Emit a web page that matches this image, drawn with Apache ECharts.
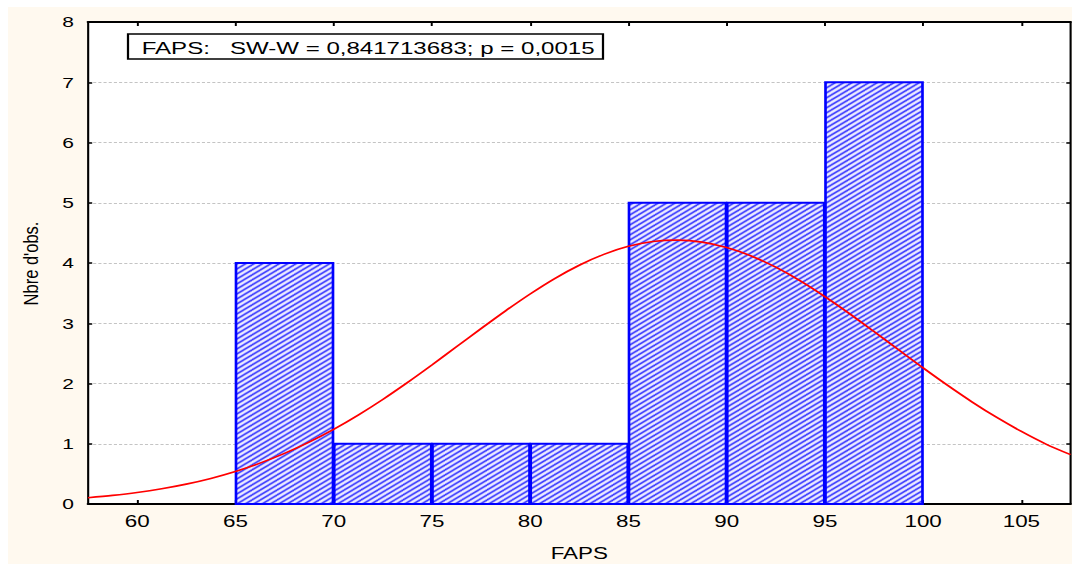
<!DOCTYPE html>
<html><head><meta charset="utf-8">
<script src="https://cdn.jsdelivr.net/npm/echarts@6/dist/echarts.min.js"></script>
<style>
html,body{margin:0;padding:0;background:#fff;width:1072px;height:564px;overflow:hidden;}
#bg{position:absolute;left:8px;top:7px;width:1064px;height:557px;background:#fff9ef;}
#chart{position:absolute;left:0;top:0;width:766px;height:564px;transform:scaleX(1.3994778);transform-origin:0 0;}
</style></head><body><div id="bg"></div><div id="chart"></div>
<script>
// ---- data ----
const binStart = [65, 70, 75, 80, 85, 90, 95];
const binEnd   = [70, 75, 80, 85, 90, 95, 100];
const counts   = [4, 1, 1, 1, 5, 5, 7];
const curveX = [57.5, 58.75, 60, 61.25, 62.5, 63.75, 65, 66.25, 67.5, 68.75, 70, 71.25, 72.5, 73.75, 75, 76.25, 77.5, 78.75, 80, 81.25, 82.5, 83.75, 85, 86.25, 87.5, 88.75, 90, 91.25, 92.5, 93.75, 95, 96.25, 97.5, 98.75, 100, 101.25, 102.5, 103.75, 105, 106.25, 107.5];
const curveY = [0.105, 0.143, 0.191, 0.253, 0.330, 0.425, 0.540, 0.678, 0.840, 1.027, 1.239, 1.476, 1.735, 2.014, 2.307, 2.609, 2.911, 3.206, 3.486, 3.742, 3.963, 4.143, 4.276, 4.356, 4.380, 4.347, 4.258, 4.117, 3.930, 3.703, 3.442, 3.160, 2.862, 2.560, 2.259, 1.968, 1.692, 1.436, 1.204, 0.995, 0.820];
const xTicks = [60, 65, 70, 75, 80, 85, 90, 95, 100, 105];
const xMin = 57.5, xMax = 107.5;
const yMin = 0, yMax = 8, yStep = 1;
const statText = 'FAPS:   SW-W = 0,841713683; p = 0,0015';
const xName = 'FAPS';
const yName = "Nbre d'obs.";

const S = 1072 / 766;
const FONT = "'Liberation Sans', Arial, sans-serif";

function makeHatch() {
  const w = 6, h = 5;
  const c = document.createElement('canvas');
  c.width = w; c.height = h;
  const g = c.getContext('2d');
  g.fillStyle = '#ececff'; g.fillRect(0, 0, w, h);
  g.strokeStyle = '#3434ff'; g.lineWidth = 1.45;
  for (const x0 of [-w, 0, w]) {
    g.beginPath(); g.moveTo(x0 - w, 2 * h); g.lineTo(x0 + 2 * w, -h); g.stroke();
  }
  return c;
}
const hatch = makeHatch();

const chart = echarts.init(document.getElementById('chart'), null, {renderer: 'svg', width: 766, height: 564});

const bins = binStart.map((s, i) => [s, binEnd[i], counts[i]]);
const curve = curveX.map((x, i) => [x, curveY[i]]);

chart.setOption({
  backgroundColor: 'transparent',
  animation: false,
  grid: {left: 88 / S, right: 1.5 / S, top: 22, bottom: 60, show: true, backgroundColor: '#ffffff', borderWidth: 0, outerBoundsMode: 'none', containLabel: false},
  xAxis: [{
    type: 'value', min: xMin, max: xMax, position: 'bottom',
    name: xName, nameLocation: 'middle', nameGap: 41,
    nameTextStyle: {fontSize: 16, color: '#000', fontFamily: FONT},
    axisLine: {show: true, onZero: false, lineStyle: {color: '#000', width: 2}},
    axisTick: {show: true, inside: true, length: 4, customValues: xTicks, lineStyle: {color: '#000', width: 1.4}},
    axisLabel: {show: true, customValues: xTicks, margin: 9, fontSize: 16, color: '#000', fontFamily: FONT},
    splitLine: {show: false}
  }, {
    type: 'value', min: xMin, max: xMax, position: 'top',
    axisLine: {show: true, onZero: false, lineStyle: {color: '#000', width: 2}},
    axisTick: {show: true, inside: true, length: 4, customValues: xTicks, lineStyle: {color: '#000', width: 1.4}},
    axisLabel: {show: false},
    splitLine: {show: false}
  }],
  yAxis: [{
    type: 'value', min: yMin, max: yMax, interval: yStep, position: 'left',
    axisLine: {show: true, onZero: false, lineStyle: {color: '#000', width: 1.5}},
    axisTick: {show: true, inside: true, length: 3, lineStyle: {color: '#000', width: 1.5}},
    axisLabel: {show: true, margin: 10, fontSize: 15, color: '#000', fontFamily: FONT},
    splitLine: {show: true, lineStyle: {color: '#c4c4c4', width: 1, type: [2.2, 1.5]}}
  }, {
    type: 'value', min: yMin, max: yMax, interval: yStep, position: 'right',
    axisLine: {show: true, onZero: false, lineStyle: {color: '#000', width: 1.5}},
    axisTick: {show: true, inside: true, length: 3, lineStyle: {color: '#000', width: 1.5}},
    axisLabel: {show: false},
    splitLine: {show: false}
  }],
  graphic: [{
    type: 'rect', z: 100,
    shape: {x: 128 / S, y: 34, width: (603 - 128) / S, height: 25},
    style: {fill: '#ffffff', stroke: '#000', lineWidth: 1.6}
  }, {
    type: 'text', z: 101, x: 141.7 / S, y: 47.5,
    style: {text: statText, fill: '#000', font: '17.2px ' + FONT, align: 'left', verticalAlign: 'middle'}
  }, {
    type: 'text', z: 101, x: 31 / S, y: 263.5, rotation: Math.PI / 2, scaleY: 1.2 / S,
    style: {text: yName, fill: '#000', font: '16.5px ' + FONT, align: 'center', verticalAlign: 'middle'}
  }],
  series: [{
    type: 'custom', z: 2,
    data: bins,
    encode: {x: [0, 1], y: 2},
    renderItem: function (params, api) {
      const p0 = api.coord([api.value(0), api.value(2)]);
      const p1 = api.coord([api.value(1), 0]);
      const ins = 0.45;
      return {
        type: 'rect',
        shape: {x: p0[0] + ins, y: p0[1], width: p1[0] - p0[0] - 2 * ins, height: p1[1] - p0[1]},
        style: {fill: {image: hatch, repeat: 'repeat'}, stroke: '#0000ff', lineWidth: 1.9}
      };
    }
  }, {
    type: 'line', z: 3,
    data: curve, smooth: 0.3, showSymbol: false, symbol: 'none',
    lineStyle: {color: '#ff0000', width: 1.6}
  }]
});
</script>
</body></html>
